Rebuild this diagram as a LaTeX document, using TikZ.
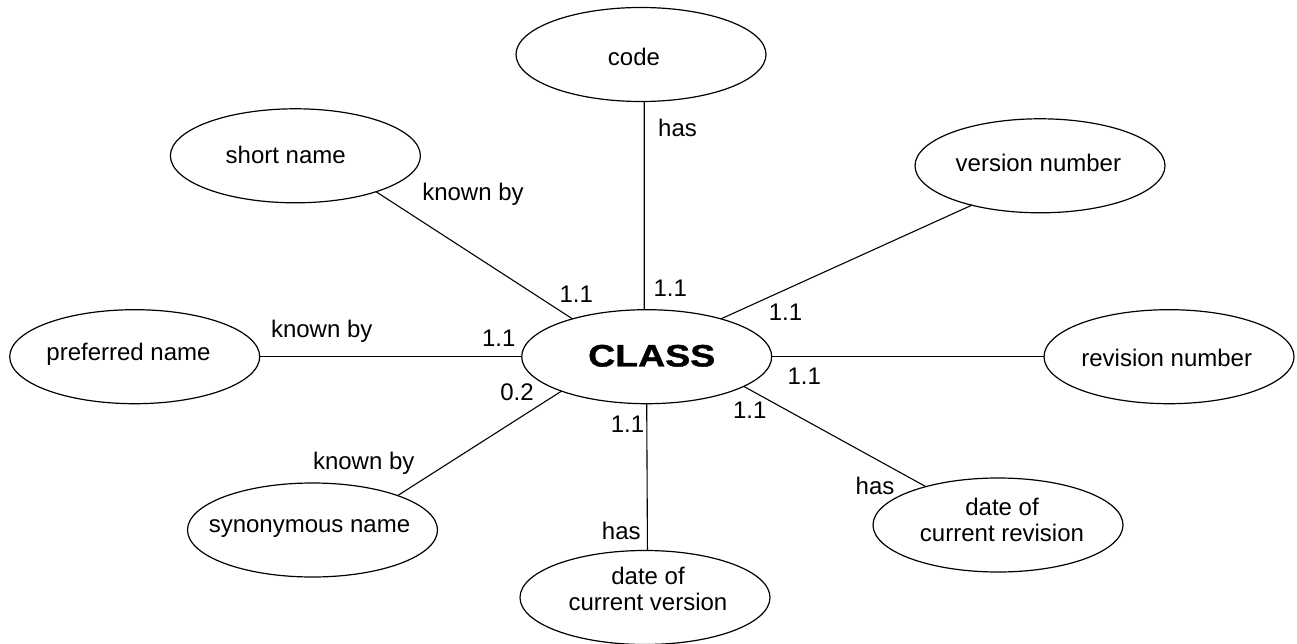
\documentclass[tikz,border=0pt]{standalone}
\usepackage{fontspec}
\setmainfont{Liberation Sans}
\newfontfamily\classfont{Liberation Sans}[FakeStretch=1.21, BoldFeatures={FakeBold=1.2}]
\usetikzlibrary{shapes.geometric}

\begin{document}
\begin{tikzpicture}[x=1pt,y=-1pt,
  attr/.style={ellipse, draw, line width=1.2pt, minimum width=250pt,
    minimum height=94pt, inner sep=0pt, outer sep=0pt},
  txt/.style={inner sep=0pt, font=\fontsize{24}{26.7}\selectfont, align=center},
  link/.style={line width=1.1pt},
]
\useasboundingbox (0,0) rectangle (1297,644);

% entity and attribute ellipses
\node[attr] (cls) at (646.7,356.7) {};
\node[attr] (code) at (641,54.5) {};
\node[attr] (sn) at (295.4,155.8) {};
\node[attr] (vn) at (1040,165.8) {};
\node[attr] (pn) at (134.7,356.7) {};
\node[attr] (rn) at (1169,356.7) {};
\node[attr] (syn) at (312.5,530) {};
\node[attr] (dcv) at (645,597.5) {};
\node[attr] (dcr) at (998,525) {};

% ellipse texts
\node[txt, font=\classfont\bfseries\fontsize{31}{31}\selectfont] (cls-t) at (651.7,355.8) {CLASS};
\node[txt] (code-t) at (634,57) {code};
\node[txt] (sn-t) at (285.7,155.3) {short name};
\node[txt] (vn-t) at (1038.4,163.3) {version number};
\node[txt] (pn-t) at (128.5,354.2) {preferred name};
\node[txt] (rn-t) at (1166.7,358.3) {revision number};
\node[txt] (syn-t) at (309.5,528.3) {synonymous name};
\node[txt] (dcv-t) at (648,589) {date of\\current version};
\node[txt] (dcr-t) at (1002,520) {date of\\current revision};

% relationships
\draw[link] (cls.93.3) -- (code.-86.3);
\draw[link] (cls.153.8) -- (sn.-24.3);
\draw[link] (cls.27.6) -- (vn.210.2);
\draw[link] (cls.west) -- (pn.east);
\draw[link] (cls.east) -- (rn.west);
\draw[link] (cls.202.8) -- (syn.22.1);
\draw[link] (cls.-90) -- (dcv.87.5);
\draw[link] (cls.-17.8) -- (dcr.152.9);

% relationship names
\node[txt] (l-code) at (677.5,128.3) {has};
\node[txt] (l-sn) at (473,194) {known by};
\node[txt] (l-pn) at (321.7,331.5) {known by};
\node[txt] (l-syn) at (363.7,463.3) {known by};
\node[txt] (l-dcv) at (621.3,531.3) {has};
\node[txt] (l-dcr) at (875,485.8) {has};

% cardinalities
\node[txt] (c-sn) at (576.3,294.3) {1.1};
\node[txt] (c-code) at (670.3,288.3) {1.1};
\node[txt] (c-vn) at (785.5,312) {1.1};
\node[txt] (c-pn) at (498.7,338.7) {1.1};
\node[txt] (c-syn) at (517,392) {0.2};
\node[txt] (c-dcv) at (627.5,424) {1.1};
\node[txt] (c-dcr) at (749.7,410.5) {1.1};
\node[txt] (c-rn) at (804.3,375.8) {1.1};
\end{tikzpicture}
\end{document}
